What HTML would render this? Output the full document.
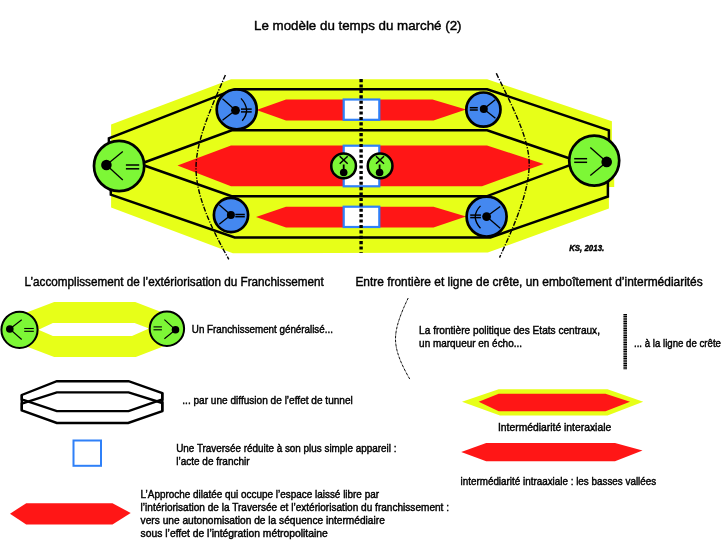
<!DOCTYPE html>
<html lang="fr">
<head>
<meta charset="utf-8">
<title>Le modèle du temps du marché (2)</title>
<style>
html,body{margin:0;padding:0;background:#fff;}
body{width:722px;height:540px;overflow:hidden;}
svg{display:block;will-change:transform;}
text{font-family:"Liberation Sans",sans-serif;fill:#000;stroke:#000;stroke-width:0.42px;}
</style>
</head>
<body>
<svg width="722" height="540" viewBox="0 0 722 540">
<rect width="722" height="540" fill="#fff"/>
<polygon fill="#e7ff18" points="111.1,124.6 231,79.3 487.2,79.3 611.9,121.2 611.9,160 614.2,160 614.2,187 608.9,187 608.9,208.5 487.8,252.6 232.9,253.2 111.1,207.5"/>
<polygon fill="#ff1616" points="256.5,110 286,99.5 432.5,99.5 466,109.5 433.5,120.5 286,120.5"/>
<polygon fill="#ff1616" points="177.5,165.5 231,145.5 487,145.5 543.6,164 482,186.2 231,186.2"/>
<polygon fill="#ff1616" points="256,217 286,206.8 433.5,206.8 466,216.5 433.5,227.5 286,227.5"/>
<rect x="343.70000000000005" y="99.5" width="35.59999999999995" height="20.30" fill="#fff" stroke="#2f80f8" stroke-width="2.2"/>
<rect x="343.70000000000005" y="145.7" width="35.59999999999995" height="40.60" fill="#fff" stroke="#2f80f8" stroke-width="2.2"/>
<rect x="343.70000000000005" y="206.7" width="35.59999999999995" height="20.30" fill="#fff" stroke="#2f80f8" stroke-width="2.2"/>
<g fill="none" stroke="#000" stroke-width="2.5" stroke-linejoin="miter">
<polyline points="108.9,145 108.9,138.4 235,89.2 487.2,89.2 608.9,130.3 608.9,140"/>
<polyline points="110.8,188 110.8,194.6 234.7,237.4 490.4,237.4 607.9,196.5 607.9,182"/>
<polyline points="140,164 231.8,130.3 487.2,130.3 572,159.3"/>
<polyline points="140,164 231.6,196.3 486.6,196.3 572,164.3"/>
</g>
<line x1="361.1" y1="79.1" x2="361.1" y2="252.8" stroke="#000" stroke-width="3.4" stroke-dasharray="3.1 2.3"/>
<path d="M225.4,75 C212,106 196,140 196,168 C196,195 210.5,227 228.8,259.3" fill="none" stroke="#000" stroke-width="1.4" stroke-dasharray="5 1.5 1.2 1.5"/>
<path d="M496.3,73.3 C512,106 529.2,138 529.2,164 C529.2,192 514,226 499.5,257.6" fill="none" stroke="#000" stroke-width="1.4" stroke-dasharray="5 1.5 1.2 1.5"/>
<circle cx="119.1" cy="166.0" r="25.1" fill="#7df736" stroke="#000" stroke-width="2.7"/>
<g stroke="#000" stroke-width="1.3" fill="none">
<line x1="106.4" y1="165" x2="122.8" y2="151.5"/>
<line x1="106.4" y1="165" x2="122.8" y2="179.9"/>
<line x1="125.9" y1="165" x2="139.2" y2="165" stroke-width="1.5"/>
<line x1="125.9" y1="168.8" x2="139.2" y2="168.8" stroke-width="1.5"/>
</g>
<circle cx="106.4" cy="165" r="5.3" fill="#000"/>
<circle cx="594.2" cy="160.6" r="25.0" fill="#7df736" stroke="#000" stroke-width="2.7"/>
<g stroke="#000" stroke-width="1.3" fill="none">
<line x1="606.7" y1="161.9" x2="590.3" y2="147.4"/>
<line x1="606.7" y1="161.9" x2="590.3" y2="175.4"/>
<line x1="574.2" y1="158.7" x2="587.1" y2="158.7" stroke-width="1.5"/>
<line x1="574.2" y1="162.3" x2="587.1" y2="162.3" stroke-width="1.5"/>
</g>
<circle cx="606.7" cy="161.9" r="5.3" fill="#000"/>
<circle cx="236.7" cy="109.4" r="20.0" fill="#4488f0" stroke="#000" stroke-width="2.7"/>
<g stroke="#000" stroke-width="1.3" fill="none">
<line x1="235.5" y1="110.3" x2="222.5" y2="98.7"/>
<line x1="235.5" y1="110.3" x2="222.5" y2="120.3"/>
<line x1="241" y1="109.1" x2="251.7" y2="109.1" stroke-width="1.5"/>
<line x1="241" y1="111.9" x2="251.7" y2="111.9" stroke-width="1.5"/>
<path d="M241,98.4 Q251.5,110 242.2,120.7"/>
</g>
<circle cx="235.5" cy="110.3" r="4.4" fill="#000"/>
<circle cx="231" cy="215" r="17.1" fill="#4488f0" stroke="#000" stroke-width="2.7"/>
<g stroke="#000" stroke-width="1.3" fill="none">
<line x1="230.9" y1="215" x2="219.2" y2="204.7"/>
<line x1="230.9" y1="215" x2="219.2" y2="224.2"/>
<line x1="235.3" y1="214.5" x2="244.8" y2="214.5" stroke-width="1.5"/>
<line x1="235.3" y1="216.7" x2="244.8" y2="216.7" stroke-width="1.5"/>
</g>
<circle cx="230.9" cy="215" r="4" fill="#000"/>
<circle cx="483.4" cy="109.6" r="17.1" fill="#4488f0" stroke="#000" stroke-width="2.7"/>
<g stroke="#000" stroke-width="1.3" fill="none">
<line x1="483.8" y1="109" x2="495.2" y2="99.7"/>
<line x1="483.8" y1="109" x2="495.4" y2="118.2"/>
<line x1="469.8" y1="107.7" x2="477.8" y2="107.7" stroke-width="1.5"/>
<line x1="469.8" y1="110" x2="477.8" y2="110" stroke-width="1.5"/>
</g>
<circle cx="483.8" cy="109" r="4" fill="#000"/>
<circle cx="486.6" cy="216.6" r="20.0" fill="#4488f0" stroke="#000" stroke-width="2.7"/>
<g stroke="#000" stroke-width="1.3" fill="none">
<line x1="486.6" y1="216.6" x2="500.2" y2="206.6"/>
<line x1="486.6" y1="216.6" x2="500.2" y2="228.3"/>
<line x1="470.2" y1="215.1" x2="480.9" y2="215.1" stroke-width="1.5"/>
<line x1="470.2" y1="217.6" x2="480.9" y2="217.6" stroke-width="1.5"/>
<path d="M480.5,205.9 Q470,216.6 480.5,228.3"/>
</g>
<circle cx="486.6" cy="216.6" r="4.4" fill="#000"/>
<circle cx="343.6" cy="165.9" r="12.35" fill="#7df736" stroke="#000" stroke-width="2.5"/>
<g stroke="#000" stroke-width="1.5"><line x1="339.7" y1="156.2" x2="347.7" y2="163.8"/><line x1="347.7" y1="156.2" x2="339.7" y2="163.8"/><line x1="343.7" y1="164.5" x2="343.7" y2="170" stroke-width="1.8"/></g>
<circle cx="343.7" cy="172.5" r="3.8" fill="#000"/>
<circle cx="380.1" cy="165.9" r="12.35" fill="#7df736" stroke="#000" stroke-width="2.5"/>
<g stroke="#000" stroke-width="1.5"><line x1="376" y1="156.2" x2="384" y2="163.8"/><line x1="384" y1="156.2" x2="376" y2="163.8"/><line x1="379.6" y1="164.5" x2="379.6" y2="170" stroke-width="1.8"/></g>
<circle cx="379.6" cy="172.5" r="3.8" fill="#000"/>
<path fill="#e7ff18" fill-rule="evenodd" d="M20,315 L54.2,302 L135.2,302 L167,314.2 L167,345 L135.8,357.1 L54.2,357.1 L20,344 Z M38.4,329.8 L52.9,323.1 L134.6,323.1 L149,328.6 L132,336 L52.9,336 Z"/>
<circle cx="19.5" cy="329.8" r="18.1" fill="#7df736" stroke="#000" stroke-width="2"/>
<g stroke="#000" stroke-width="1.1" fill="none">
<line x1="9.8" y1="329" x2="21.7" y2="319.7"/>
<line x1="9.8" y1="329" x2="21.7" y2="339.5"/>
<line x1="24.2" y1="328.5" x2="33.8" y2="328.5" stroke-width="1.1"/>
<line x1="24.2" y1="331.3" x2="33.8" y2="331.3" stroke-width="1.1"/>
</g>
<circle cx="9.8" cy="329" r="3.8" fill="#000"/>
<circle cx="166.9" cy="328.7" r="17.2" fill="#7df736" stroke="#000" stroke-width="2"/>
<g stroke="#000" stroke-width="1.1" fill="none">
<line x1="175.5" y1="329.8" x2="164.4" y2="319.7"/>
<line x1="175.5" y1="329.8" x2="164.4" y2="338.8"/>
<line x1="153.5" y1="326.9" x2="161.9" y2="326.9" stroke-width="1.1"/>
<line x1="153.5" y1="329.8" x2="161.9" y2="329.8" stroke-width="1.1"/>
</g>
<circle cx="175.5" cy="329.8" r="3.8" fill="#000"/>
<g fill="none" stroke="#000" stroke-width="2.4" stroke-linejoin="miter">
<polygon points="56.8,381.2 128.6,381.2 162.3,393 162.3,399.3 128.6,411.1 56.8,411.1 21.8,399.3 21.8,395"/>
<polygon points="56.8,392.4 128.6,392.4 162.3,403 162.3,411.1 128.2,423 56.8,423 21.8,410.5 21.8,403.7"/>
<line x1="21.8" y1="395" x2="21.8" y2="410.5"/><line x1="162.3" y1="393" x2="162.3" y2="411.1"/>
</g>
<rect x="73.5" y="440.5" width="27.5" height="25.3" fill="#fff" stroke="#2f80f8" stroke-width="2"/>
<polygon fill="#ff1616" points="10,513.7 26.2,503.2 112.5,503.2 130.7,513 112.5,524.5 26.2,524.5"/>
<path d="M408.2,298 C400,315 395.5,328 395.5,339 C395.5,351 401,364 410,379.5" fill="none" stroke="#000" stroke-width="0.95" stroke-dasharray="2.6 0.6 0.6 0.6"/>
<line x1="625.2" y1="314" x2="625.2" y2="369.3" stroke="#000" stroke-width="3.6" stroke-dasharray="1.3 0.45"/>
<polygon fill="#e7ff18" points="462,401.8 498.7,389.2 607.5,389.2 643.2,401.8 607.5,415.5 500,415.5"/>
<polygon fill="#ff1616" points="478.7,401.8 498.7,393.7 605.5,393.7 630,401.8 605.5,411.2 498.7,411.2"/>
<polygon fill="#ff1616" points="461.2,452 486.2,443 615,443 642.5,450.5 615,461.2 486.2,461.2"/>
<g opacity="0.999">
<text x="254" y="29.6" font-size="13.4" textLength="207.5" lengthAdjust="spacingAndGlyphs">Le modèle du temps du marché (2)</text>
<text x="24.6" y="285.7" font-size="12.2" textLength="299.2" lengthAdjust="spacingAndGlyphs">L’accomplissement de l’extériorisation du Franchissement</text>
<text x="355.4" y="285.7" font-size="12.2" textLength="347.3" lengthAdjust="spacingAndGlyphs">Entre frontière et ligne de crête, un emboîtement d’intermédiarités</text>
<text x="191.8" y="332.7" font-size="10.2" textLength="141.1" lengthAdjust="spacingAndGlyphs">Un Franchissement généralisé...</text>
<text x="182.3" y="404" font-size="10.2" textLength="170.5" lengthAdjust="spacingAndGlyphs">... par une diffusion de l’effet de tunnel</text>
<text x="176.2" y="451.8" font-size="10.2" textLength="220.2" lengthAdjust="spacingAndGlyphs">Une Traversée réduite à son plus simple appareil :</text>
<text x="176.2" y="464.8" font-size="10.2" textLength="73.4" lengthAdjust="spacingAndGlyphs">l’acte de franchir</text>
<text x="140.6" y="498.4" font-size="10.2" textLength="238.4" lengthAdjust="spacingAndGlyphs">L’Approche dilatée qui occupe l’espace laissé libre par</text>
<text x="140.6" y="511.2" font-size="10.2" textLength="308.4" lengthAdjust="spacingAndGlyphs">l’intériorisation de la Traversée et l’extériorisation du franchissement :</text>
<text x="140.6" y="524.0" font-size="10.2" textLength="244.2" lengthAdjust="spacingAndGlyphs">vers une autonomisation de la séquence intermédiaire</text>
<text x="140.6" y="536.8" font-size="10.2" textLength="187.2" lengthAdjust="spacingAndGlyphs">sous l’effet de l’intégration métropolitaine</text>
<text x="419.1" y="333.8" font-size="10.2" textLength="180.9" lengthAdjust="spacingAndGlyphs">La frontière politique des Etats centraux,</text>
<text x="419.1" y="346.8" font-size="10.2" textLength="102.9" lengthAdjust="spacingAndGlyphs">un marqueur en écho...</text>
<text x="634" y="346.8" font-size="10.2" textLength="87.0" lengthAdjust="spacingAndGlyphs">... à la ligne de crête</text>
<text x="498" y="430.5" font-size="10.2" textLength="113.2" lengthAdjust="spacingAndGlyphs">Intermédiarité interaxiale</text>
<text x="460.5" y="484.5" font-size="10.2" textLength="195.7" lengthAdjust="spacingAndGlyphs">intermédiarité intraaxiale : les basses vallées</text>
<text x="569.2" y="250.5" font-size="8.6" textLength="35.0" lengthAdjust="spacingAndGlyphs" font-weight="bold" font-style="italic">KS, 2013.</text>
</g>
</svg>
</body>
</html>
